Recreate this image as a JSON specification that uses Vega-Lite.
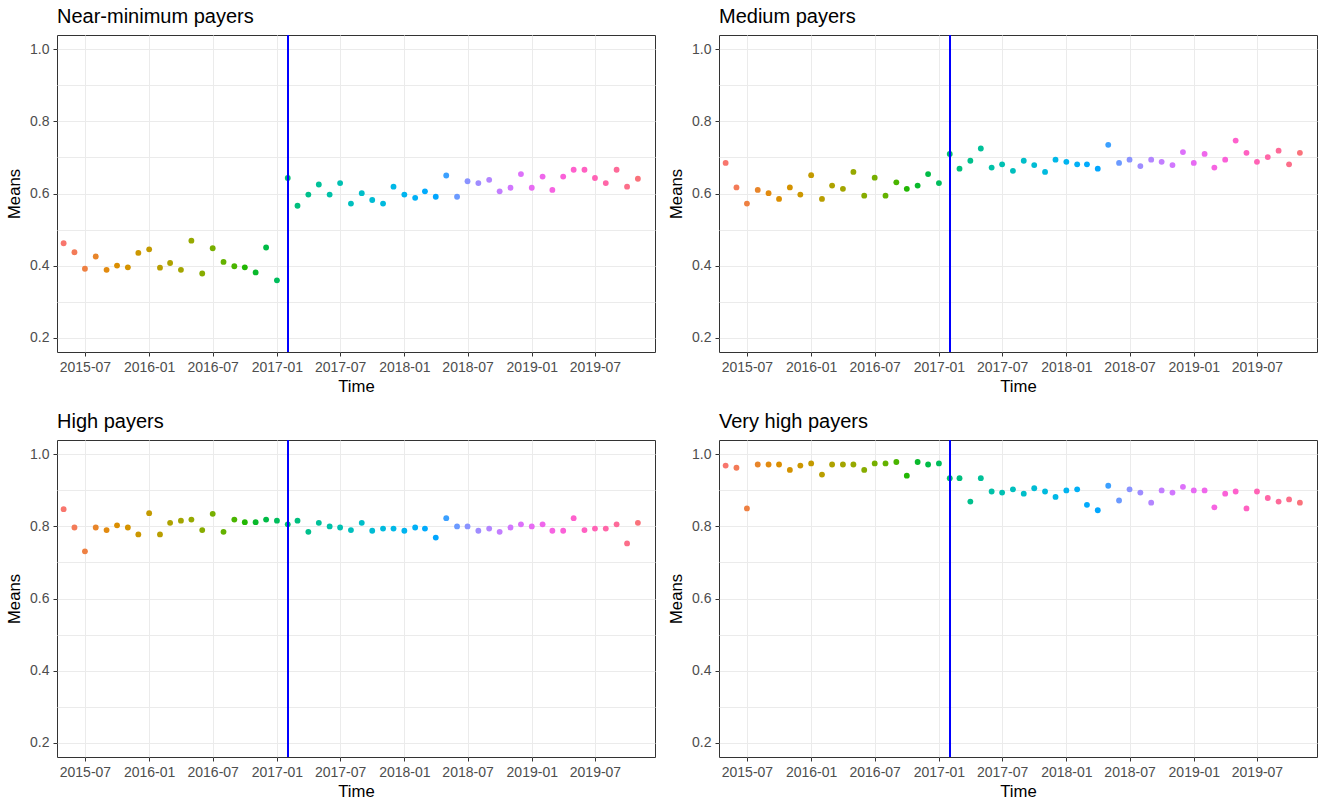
{
  "$schema": "https://vega.github.io/schema/vega-lite/v6.json",
  "background": "white",
  "padding": {"left": 6, "top": 6, "right": 4, "bottom": 3},
  "columns": 2,
  "spacing": {"row": 88, "column": 64},
  "bounds": "flush",
  "datasets": {
    "near": [
      {"t":"2015-05-01","v":0.462},{"t":"2015-06-01","v":0.437},{"t":"2015-07-01","v":0.391},{"t":"2015-08-01","v":0.425},{"t":"2015-09-01","v":0.388},{"t":"2015-10-01","v":0.400},{"t":"2015-11-01","v":0.395},{"t":"2015-12-01","v":0.435},
      {"t":"2016-01-01","v":0.445},{"t":"2016-02-01","v":0.394},{"t":"2016-03-01","v":0.407},{"t":"2016-04-01","v":0.388},{"t":"2016-05-01","v":0.469},{"t":"2016-06-01","v":0.378},{"t":"2016-07-01","v":0.448},{"t":"2016-08-01","v":0.410},{"t":"2016-09-01","v":0.398},{"t":"2016-10-01","v":0.395},{"t":"2016-11-01","v":0.381},{"t":"2016-12-01","v":0.450},
      {"t":"2017-01-01","v":0.359},{"t":"2017-02-01","v":0.643},{"t":"2017-03-01","v":0.566},{"t":"2017-04-01","v":0.597},{"t":"2017-05-01","v":0.625},{"t":"2017-06-01","v":0.597},{"t":"2017-07-01","v":0.629},{"t":"2017-08-01","v":0.572},{"t":"2017-09-01","v":0.601},{"t":"2017-10-01","v":0.582},{"t":"2017-11-01","v":0.572},{"t":"2017-12-01","v":0.619},
      {"t":"2018-01-01","v":0.597},{"t":"2018-02-01","v":0.588},{"t":"2018-03-01","v":0.606},{"t":"2018-04-01","v":0.591},{"t":"2018-05-01","v":0.650},{"t":"2018-06-01","v":0.591},{"t":"2018-07-01","v":0.634},{"t":"2018-08-01","v":0.629},{"t":"2018-09-01","v":0.638},{"t":"2018-10-01","v":0.606},{"t":"2018-11-01","v":0.616},{"t":"2018-12-01","v":0.654},
      {"t":"2019-01-01","v":0.616},{"t":"2019-02-01","v":0.647},{"t":"2019-03-01","v":0.610},{"t":"2019-04-01","v":0.647},{"t":"2019-05-01","v":0.666},{"t":"2019-06-01","v":0.666},{"t":"2019-07-01","v":0.643},{"t":"2019-08-01","v":0.629},{"t":"2019-09-01","v":0.666},{"t":"2019-10-01","v":0.619},{"t":"2019-11-01","v":0.641}
    ],
    "medium": [
      {"t":"2015-05-01","v":0.685},{"t":"2015-06-01","v":0.617},{"t":"2015-07-01","v":0.572},{"t":"2015-08-01","v":0.610},{"t":"2015-09-01","v":0.601},{"t":"2015-10-01","v":0.585},{"t":"2015-11-01","v":0.617},{"t":"2015-12-01","v":0.597},
      {"t":"2016-01-01","v":0.651},{"t":"2016-02-01","v":0.585},{"t":"2016-03-01","v":0.622},{"t":"2016-04-01","v":0.613},{"t":"2016-05-01","v":0.660},{"t":"2016-06-01","v":0.594},{"t":"2016-07-01","v":0.644},{"t":"2016-08-01","v":0.594},{"t":"2016-09-01","v":0.631},{"t":"2016-10-01","v":0.613},{"t":"2016-11-01","v":0.622},{"t":"2016-12-01","v":0.654},
      {"t":"2017-01-01","v":0.629},{"t":"2017-02-01","v":0.710},{"t":"2017-03-01","v":0.669},{"t":"2017-04-01","v":0.691},{"t":"2017-05-01","v":0.725},{"t":"2017-06-01","v":0.672},{"t":"2017-07-01","v":0.681},{"t":"2017-08-01","v":0.663},{"t":"2017-09-01","v":0.691},{"t":"2017-10-01","v":0.679},{"t":"2017-11-01","v":0.660},{"t":"2017-12-01","v":0.694},
      {"t":"2018-01-01","v":0.688},{"t":"2018-02-01","v":0.681},{"t":"2018-03-01","v":0.681},{"t":"2018-04-01","v":0.669},{"t":"2018-05-01","v":0.735},{"t":"2018-06-01","v":0.685},{"t":"2018-07-01","v":0.694},{"t":"2018-08-01","v":0.676},{"t":"2018-09-01","v":0.694},{"t":"2018-10-01","v":0.688},{"t":"2018-11-01","v":0.679},{"t":"2018-12-01","v":0.715},
      {"t":"2019-01-01","v":0.685},{"t":"2019-02-01","v":0.710},{"t":"2019-03-01","v":0.672},{"t":"2019-04-01","v":0.694},{"t":"2019-05-01","v":0.747},{"t":"2019-06-01","v":0.713},{"t":"2019-07-01","v":0.688},{"t":"2019-08-01","v":0.701},{"t":"2019-09-01","v":0.719},{"t":"2019-10-01","v":0.681},{"t":"2019-11-01","v":0.713}
    ],
    "high": [
      {"t":"2015-05-01","v":0.848},{"t":"2015-06-01","v":0.797},{"t":"2015-07-01","v":0.731},{"t":"2015-08-01","v":0.797},{"t":"2015-09-01","v":0.790},{"t":"2015-10-01","v":0.803},{"t":"2015-11-01","v":0.797},{"t":"2015-12-01","v":0.778},
      {"t":"2016-01-01","v":0.837},{"t":"2016-02-01","v":0.778},{"t":"2016-03-01","v":0.810},{"t":"2016-04-01","v":0.816},{"t":"2016-05-01","v":0.819},{"t":"2016-06-01","v":0.790},{"t":"2016-07-01","v":0.835},{"t":"2016-08-01","v":0.785},{"t":"2016-09-01","v":0.819},{"t":"2016-10-01","v":0.812},{"t":"2016-11-01","v":0.812},{"t":"2016-12-01","v":0.819},
      {"t":"2017-01-01","v":0.816},{"t":"2017-02-01","v":0.806},{"t":"2017-03-01","v":0.816},{"t":"2017-04-01","v":0.785},{"t":"2017-05-01","v":0.810},{"t":"2017-06-01","v":0.800},{"t":"2017-07-01","v":0.797},{"t":"2017-08-01","v":0.790},{"t":"2017-09-01","v":0.810},{"t":"2017-10-01","v":0.788},{"t":"2017-11-01","v":0.794},{"t":"2017-12-01","v":0.794},
      {"t":"2018-01-01","v":0.788},{"t":"2018-02-01","v":0.797},{"t":"2018-03-01","v":0.794},{"t":"2018-04-01","v":0.769},{"t":"2018-05-01","v":0.823},{"t":"2018-06-01","v":0.800},{"t":"2018-07-01","v":0.800},{"t":"2018-08-01","v":0.788},{"t":"2018-09-01","v":0.794},{"t":"2018-10-01","v":0.785},{"t":"2018-11-01","v":0.797},{"t":"2018-12-01","v":0.806},
      {"t":"2019-01-01","v":0.800},{"t":"2019-02-01","v":0.806},{"t":"2019-03-01","v":0.788},{"t":"2019-04-01","v":0.788},{"t":"2019-05-01","v":0.823},{"t":"2019-06-01","v":0.790},{"t":"2019-07-01","v":0.794},{"t":"2019-08-01","v":0.794},{"t":"2019-09-01","v":0.806},{"t":"2019-10-01","v":0.753},{"t":"2019-11-01","v":0.810}
    ],
    "veryhigh": [
      {"t":"2015-05-01","v":0.969},{"t":"2015-06-01","v":0.963},{"t":"2015-07-01","v":0.850},{"t":"2015-08-01","v":0.972},{"t":"2015-09-01","v":0.972},{"t":"2015-10-01","v":0.972},{"t":"2015-11-01","v":0.957},{"t":"2015-12-01","v":0.969},
      {"t":"2016-01-01","v":0.975},{"t":"2016-02-01","v":0.944},{"t":"2016-03-01","v":0.972},{"t":"2016-04-01","v":0.972},{"t":"2016-05-01","v":0.972},{"t":"2016-06-01","v":0.957},{"t":"2016-07-01","v":0.975},{"t":"2016-08-01","v":0.975},{"t":"2016-09-01","v":0.979},{"t":"2016-10-01","v":0.941},{"t":"2016-11-01","v":0.979},{"t":"2016-12-01","v":0.972},
      {"t":"2017-01-01","v":0.975},{"t":"2017-02-01","v":0.934},{"t":"2017-03-01","v":0.934},{"t":"2017-04-01","v":0.869},{"t":"2017-05-01","v":0.934},{"t":"2017-06-01","v":0.897},{"t":"2017-07-01","v":0.894},{"t":"2017-08-01","v":0.903},{"t":"2017-09-01","v":0.891},{"t":"2017-10-01","v":0.906},{"t":"2017-11-01","v":0.897},{"t":"2017-12-01","v":0.882},
      {"t":"2018-01-01","v":0.900},{"t":"2018-02-01","v":0.903},{"t":"2018-03-01","v":0.860},{"t":"2018-04-01","v":0.845},{"t":"2018-05-01","v":0.913},{"t":"2018-06-01","v":0.872},{"t":"2018-07-01","v":0.903},{"t":"2018-08-01","v":0.894},{"t":"2018-09-01","v":0.866},{"t":"2018-10-01","v":0.900},{"t":"2018-11-01","v":0.894},{"t":"2018-12-01","v":0.910},
      {"t":"2019-01-01","v":0.900},{"t":"2019-02-01","v":0.900},{"t":"2019-03-01","v":0.853},{"t":"2019-04-01","v":0.891},{"t":"2019-05-01","v":0.897},{"t":"2019-06-01","v":0.850},{"t":"2019-07-01","v":0.897},{"t":"2019-08-01","v":0.879},{"t":"2019-09-01","v":0.869},{"t":"2019-10-01","v":0.875},{"t":"2019-11-01","v":0.866}
    ]
  },
  "concat": [
    {
      "data": {"name": "near"},
      "title": "Near-minimum payers",
      "width": 598, "height": 317,
      "layer": [
        {
          "mark": {"type": "point", "filled": true, "size": 34, "opacity": 1},
          "encoding": {
            "x": {"field": "t", "type": "temporal", "title": "Time",
              "scale": {"type": "utc", "domain": [{"year": 2015, "month": 4, "date": 12, "utc": true}, {"year": 2019, "month": 12, "date": 20, "utc": true}]},
              "axis": {"format": "%Y-%m", "labelFlush": false, "labelOverlap": false, "titlePadding": 4,
                "values": [{"year": 2015, "month": 7, "date": 1, "utc": true}, {"year": 2016, "month": 1, "date": 1, "utc": true}, {"year": 2016, "month": 7, "date": 1, "utc": true}, {"year": 2017, "month": 1, "date": 1, "utc": true}, {"year": 2017, "month": 7, "date": 1, "utc": true}, {"year": 2018, "month": 1, "date": 1, "utc": true}, {"year": 2018, "month": 7, "date": 1, "utc": true}, {"year": 2019, "month": 1, "date": 1, "utc": true}, {"year": 2019, "month": 7, "date": 1, "utc": true}]}},
            "y": {"field": "v", "type": "quantitative", "title": "Means",
              "scale": {"domain": [0.16, 1.04], "nice": false, "zero": false},
              "axis": {"values": [0.2, 0.3, 0.4, 0.5, 0.6, 0.7, 0.8, 0.9, 1.0], "titlePadding": 6,
                "labelExpr": "round(datum.value * 10) % 2 == 1 ? '' : format(datum.value, '.1f')",
                "tickOpacity": {"condition": {"test": "round(datum.value * 10) % 2 == 1", "value": 0}, "value": 1}}},
            "color": {"field": "t", "type": "ordinal", "legend": null,
              "scale": {"range": ["#F8766D","#F37B58","#EE8042","#E8852A","#E28A0F","#DB8E00","#D49200","#CC9700","#C39A00","#B99E00","#AEA200","#A3A500","#96A900","#87AC00","#77AF00","#64B200","#4AB500","#22B703","#09B92B","#00BB46","#00BD5C","#00BE6D","#00BF7D","#00C08C","#00C199","#00C1A8","#00C0B2","#00BFBE","#00BEC9","#00BCD4","#00BADE","#00B8E7","#00B4EF","#00B0F6","#00ABFD","#00A6FF","#3BA0FF","#6B9AFF","#8A93FF","#9F8CFF","#B385FF","#C37EFF","#D177FE","#DD71FA","#E76BF3","#EF67EB","#F664E2","#FA61D8","#FE61CD","#FF61C2","#FF63B6","#FF66A8","#FD6A99","#FC6E8A","#FA727B"]}}
          }
        },
        {
          "mark": {"type": "rule", "color": "#0000FF", "strokeWidth": 0.7},
          "encoding": {"x": {"datum": {"year": 2017, "month": 2, "date": 1, "utc": true}, "type": "temporal"}}
        }
      ]
    },
    {
      "data": {"name": "medium"},
      "title": "Medium payers",
      "width": 598, "height": 317,
      "layer": [
        {
          "mark": {"type": "point", "filled": true, "size": 34, "opacity": 1},
          "encoding": {
            "x": {"field": "t", "type": "temporal", "title": "Time",
              "scale": {"type": "utc", "domain": [{"year": 2015, "month": 4, "date": 12, "utc": true}, {"year": 2019, "month": 12, "date": 20, "utc": true}]},
              "axis": {"format": "%Y-%m", "labelFlush": false, "labelOverlap": false, "titlePadding": 4,
                "values": [{"year": 2015, "month": 7, "date": 1, "utc": true}, {"year": 2016, "month": 1, "date": 1, "utc": true}, {"year": 2016, "month": 7, "date": 1, "utc": true}, {"year": 2017, "month": 1, "date": 1, "utc": true}, {"year": 2017, "month": 7, "date": 1, "utc": true}, {"year": 2018, "month": 1, "date": 1, "utc": true}, {"year": 2018, "month": 7, "date": 1, "utc": true}, {"year": 2019, "month": 1, "date": 1, "utc": true}, {"year": 2019, "month": 7, "date": 1, "utc": true}]}},
            "y": {"field": "v", "type": "quantitative", "title": "Means",
              "scale": {"domain": [0.16, 1.04], "nice": false, "zero": false},
              "axis": {"values": [0.2, 0.3, 0.4, 0.5, 0.6, 0.7, 0.8, 0.9, 1.0], "titlePadding": 6,
                "labelExpr": "round(datum.value * 10) % 2 == 1 ? '' : format(datum.value, '.1f')",
                "tickOpacity": {"condition": {"test": "round(datum.value * 10) % 2 == 1", "value": 0}, "value": 1}}},
            "color": {"field": "t", "type": "ordinal", "legend": null}
          }
        },
        {
          "mark": {"type": "rule", "color": "#0000FF", "strokeWidth": 0.7},
          "encoding": {"x": {"datum": {"year": 2017, "month": 2, "date": 1, "utc": true}, "type": "temporal"}}
        }
      ]
    },
    {
      "data": {"name": "high"},
      "title": "High payers",
      "width": 598, "height": 317,
      "layer": [
        {
          "mark": {"type": "point", "filled": true, "size": 34, "opacity": 1},
          "encoding": {
            "x": {"field": "t", "type": "temporal", "title": "Time",
              "scale": {"type": "utc", "domain": [{"year": 2015, "month": 4, "date": 12, "utc": true}, {"year": 2019, "month": 12, "date": 20, "utc": true}]},
              "axis": {"format": "%Y-%m", "labelFlush": false, "labelOverlap": false, "titlePadding": 4,
                "values": [{"year": 2015, "month": 7, "date": 1, "utc": true}, {"year": 2016, "month": 1, "date": 1, "utc": true}, {"year": 2016, "month": 7, "date": 1, "utc": true}, {"year": 2017, "month": 1, "date": 1, "utc": true}, {"year": 2017, "month": 7, "date": 1, "utc": true}, {"year": 2018, "month": 1, "date": 1, "utc": true}, {"year": 2018, "month": 7, "date": 1, "utc": true}, {"year": 2019, "month": 1, "date": 1, "utc": true}, {"year": 2019, "month": 7, "date": 1, "utc": true}]}},
            "y": {"field": "v", "type": "quantitative", "title": "Means",
              "scale": {"domain": [0.16, 1.04], "nice": false, "zero": false},
              "axis": {"values": [0.2, 0.3, 0.4, 0.5, 0.6, 0.7, 0.8, 0.9, 1.0], "titlePadding": 6,
                "labelExpr": "round(datum.value * 10) % 2 == 1 ? '' : format(datum.value, '.1f')",
                "tickOpacity": {"condition": {"test": "round(datum.value * 10) % 2 == 1", "value": 0}, "value": 1}}},
            "color": {"field": "t", "type": "ordinal", "legend": null}
          }
        },
        {
          "mark": {"type": "rule", "color": "#0000FF", "strokeWidth": 0.7},
          "encoding": {"x": {"datum": {"year": 2017, "month": 2, "date": 1, "utc": true}, "type": "temporal"}}
        }
      ]
    },
    {
      "data": {"name": "veryhigh"},
      "title": "Very high payers",
      "width": 598, "height": 317,
      "layer": [
        {
          "mark": {"type": "point", "filled": true, "size": 34, "opacity": 1},
          "encoding": {
            "x": {"field": "t", "type": "temporal", "title": "Time",
              "scale": {"type": "utc", "domain": [{"year": 2015, "month": 4, "date": 12, "utc": true}, {"year": 2019, "month": 12, "date": 20, "utc": true}]},
              "axis": {"format": "%Y-%m", "labelFlush": false, "labelOverlap": false, "titlePadding": 4,
                "values": [{"year": 2015, "month": 7, "date": 1, "utc": true}, {"year": 2016, "month": 1, "date": 1, "utc": true}, {"year": 2016, "month": 7, "date": 1, "utc": true}, {"year": 2017, "month": 1, "date": 1, "utc": true}, {"year": 2017, "month": 7, "date": 1, "utc": true}, {"year": 2018, "month": 1, "date": 1, "utc": true}, {"year": 2018, "month": 7, "date": 1, "utc": true}, {"year": 2019, "month": 1, "date": 1, "utc": true}, {"year": 2019, "month": 7, "date": 1, "utc": true}]}},
            "y": {"field": "v", "type": "quantitative", "title": "Means",
              "scale": {"domain": [0.16, 1.04], "nice": false, "zero": false},
              "axis": {"values": [0.2, 0.3, 0.4, 0.5, 0.6, 0.7, 0.8, 0.9, 1.0], "titlePadding": 6,
                "labelExpr": "round(datum.value * 10) % 2 == 1 ? '' : format(datum.value, '.1f')",
                "tickOpacity": {"condition": {"test": "round(datum.value * 10) % 2 == 1", "value": 0}, "value": 1}}},
            "color": {"field": "t", "type": "ordinal", "legend": null}
          }
        },
        {
          "mark": {"type": "rule", "color": "#0000FF", "strokeWidth": 0.7},
          "encoding": {"x": {"datum": {"year": 2017, "month": 2, "date": 1, "utc": true}, "type": "temporal"}}
        }
      ]
    }
  ],
  "resolve": {"scale": {"color": "shared"}},
  "config": {
    "font": "Liberation Sans",
    "view": {"stroke": "#333333", "strokeWidth": 1},
    "axis": {
      "domain": false, "grid": true, "gridColor": "#EBEBEB", "gridWidth": 1,
      "tickColor": "#333333", "tickSize": 4, "tickWidth": 1,
      "labelColor": "#4D4D4D", "labelFontSize": 14, "labelFont": "Liberation Sans", "labelPadding": 4,
      "titleFont": "Liberation Sans", "titleFontSize": 16.7, "titleFontWeight": "normal", "titleColor": "#000000"
    },
    "title": {"anchor": "start", "frame": "group", "fontSize": 20, "fontWeight": "normal", "font": "Liberation Sans", "color": "#000000", "offset": 8}
  }
}
